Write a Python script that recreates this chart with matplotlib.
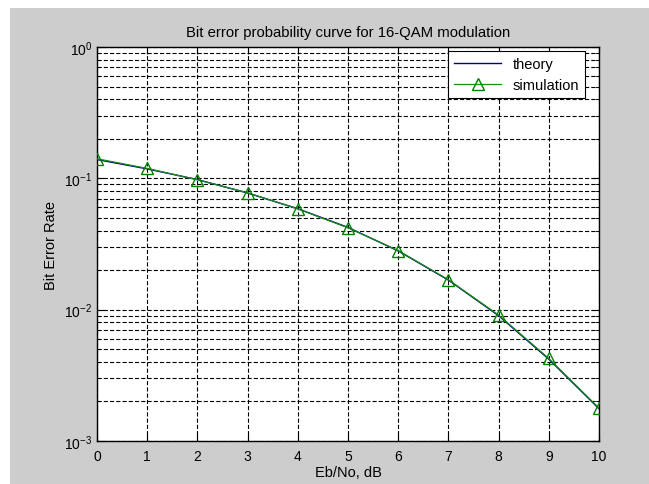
import matplotlib.pyplot as plt
from matplotlib.patches import Rectangle
from matplotlib.ticker import LogLocator, NullFormatter

plt.rcParams['font.family'] = ['Liberation Sans', 'DejaVu Sans']
plt.rcParams['lines.scale_dashes'] = False

# --- Data ---
ebno_db = [0, 1, 2, 3, 4, 5, 6, 7, 8, 9, 10]
ber_theory = [0.139, 0.118, 0.0978, 0.0773, 0.0587, 0.0423, 0.0280, 0.0168, 0.0090, 0.0042, 0.00176]
ber_sim = [0.141, 0.119, 0.0975, 0.0776, 0.0585, 0.0420, 0.0282, 0.0169, 0.0091, 0.00425, 0.00178]

# --- Figure ---
W, H = 649, 485
fig = plt.figure(figsize=(W / 100, H / 100), dpi=100)
fig.patch.set_facecolor('#cdcdcd')
# thin white border of the screenshot (top and left)
fig.add_artist(Rectangle((0, (H - 9) / H), 1, 9 / H, transform=fig.transFigure,
                         facecolor='white', edgecolor='none'))
fig.add_artist(Rectangle((0, 0), 10 / W, 1, transform=fig.transFigure,
                         facecolor='white', edgecolor='none'))

ax = fig.add_axes([97 / W, (H - 442) / H, (599 - 97) / W, (442 - 48) / H])
ax.set_facecolor('white')

ax.semilogy(ebno_db, ber_theory, color='#000080', lw=1.0, label='theory', zorder=3)
ax.semilogy(ebno_db, ber_sim, color='#1a8c1a', lw=0.9, marker='^', ms=8,
            mfc='none', mec='#008000', mew=1.0, label='simulation', zorder=4)

ax.set_xlim(0, 10)
ax.set_ylim(1e-3, 1)
ax.set_xticks(range(0, 11))
ax.yaxis.set_major_locator(LogLocator(base=10, numticks=10))
ax.yaxis.set_minor_locator(LogLocator(base=10, subs=range(2, 10), numticks=20))
ax.yaxis.set_minor_formatter(NullFormatter())

dash = (0, (3, 1.5))
ax.grid(True, which='major', axis='both', color='black', lw=0.8, linestyle=dash)
ax.grid(True, which='minor', axis='y', color='black', lw=0.8, linestyle=dash)

ax.tick_params(which='both', direction='in', top=True, right=True,
               labelsize=10, colors='black')
ax.tick_params(which='major', length=5)
ax.tick_params(which='minor', length=3)
ax.tick_params(axis='x', pad=6)
for s in ax.spines.values():
    s.set_linewidth(1.0)
    s.set_color('black')

ax.set_title('Bit error probability curve for 16-QAM modulation', fontsize=10.7, pad=8)
ax.set_xlabel('Eb/No, dB', fontsize=10.5, labelpad=1)
ax.set_ylabel('Bit Error Rate', fontsize=10.5, labelpad=4)

leg = ax.legend(loc='upper right', bbox_to_anchor=(0.972, 0.99), borderaxespad=0,
                fontsize=10.5, fancybox=False, framealpha=1,
                edgecolor='black', handlelength=3.2)
leg.get_frame().set_linewidth(0.8)

fig.savefig('out.png', dpi=100, facecolor=fig.get_facecolor())
